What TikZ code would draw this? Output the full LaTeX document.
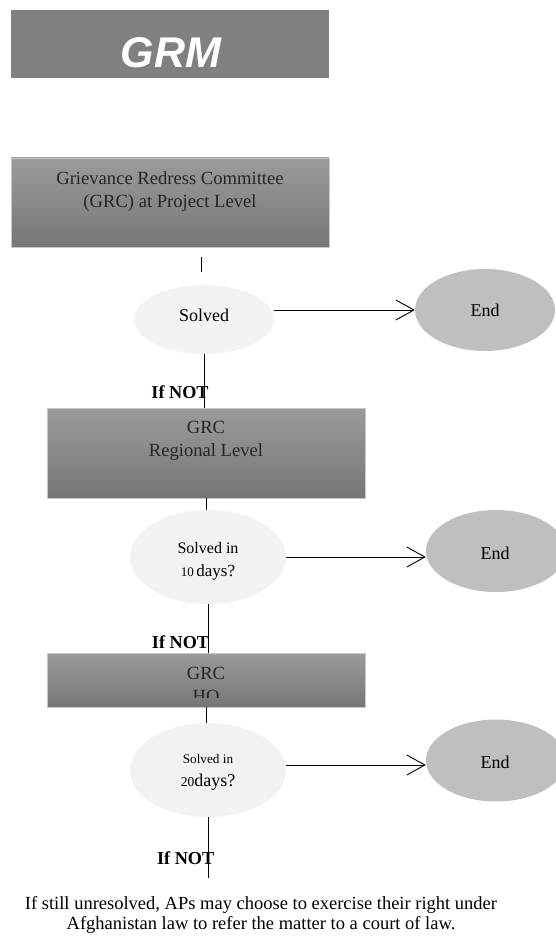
\documentclass[tikz,border=0pt]{standalone}
\usepackage{fontspec}
\setmainfont{Liberation Serif}
\newfontfamily\grmfont{Liberation Sans}
\usetikzlibrary{arrows.meta,shapes.geometric}
\definecolor{titlegray}{HTML}{808080}
\definecolor{boxtop}{HTML}{9B9B9B}
\definecolor{boxbot}{HTML}{767676}
\definecolor{boxedge}{HTML}{C8C8C8}
\definecolor{qfill}{HTML}{F2F2F2}
\definecolor{endfill}{HTML}{BFBFBF}
\begin{document}
\begin{tikzpicture}[x=1pt,y=-1pt,
  titlebox/.style={rectangle, fill=titlegray, minimum width=318pt, minimum height=68pt, inner sep=0pt},
  box/.style={rectangle, draw=boxedge, line width=0.8pt, top color=boxtop, bottom color=boxbot, minimum width=318pt, inner sep=0pt},
  boxtext/.style={align=center, inner sep=0pt, font=\fontsize{18.6}{23}\selectfont, text=black!85},
  question/.style={ellipse, fill=qfill, inner sep=0pt},
  endnode/.style={ellipse, fill=endfill, inner sep=0pt, minimum width=140pt, minimum height=82pt},
  plain/.style={inner sep=0pt, align=center},
  ifnot/.style={inner sep=0pt, font=\fontsize{18.2}{20}\selectfont\bfseries},
  conn/.style={draw=black, line width=0.9pt},
  arr/.style={conn, -{Straight Barb[length=18pt,width=20pt,line width=0.9pt]}}
]
\useasboundingbox (0,0) rectangle (556,936);
\clip (0,0) rectangle (556,936);
\fill[white] (0,0) rectangle (556,936);

% title
\node[titlebox] (title) at (170,44) {};
\node[inner sep=0pt, text=white, font=\grmfont\bfseries\itshape\fontsize{43}{48}\selectfont] (grm) at (171,53) {GRM};

% level 1
\node[box, minimum height=89pt] (b1) at (170,202.5) {};
\node[boxtext] (t1) at (170,191.5) {Grievance Redress Committee\\(GRC) at Project Level};
\coordinate (c1a) at (201,257);
\coordinate (c1b) at (201,272);
\draw[conn] (c1a) -- (c1b);
\node[question, minimum width=140pt, minimum height=69pt] (e1) at (204,319.5) {};
\node[plain, font=\fontsize{18}{20}\selectfont] (q1) at (204,315) {Solved};
\node[endnode] (end1) at (485,310) {};
\node[plain, font=\fontsize{18}{20}\selectfont] (end1t) at (485,310) {End};
\draw[arr] (e1.east |- end1.west) -- (end1.west);

% level 2
\node[box, minimum height=90pt] (b2) at (206,453) {};
\node[boxtext] (t2) at (206,441) {GRC\\Regional Level};
\draw[conn] (e1.south) -- (e1.south |- b2.north);
\node[ifnot] (n1) at (180,391.7) {If NOT};
\node[question, minimum width=156pt, minimum height=94pt] (e2) at (208,557) {};
\node[plain] (q2a) at (208,548) {\fontsize{16}{18}\selectfont Solved in};
\node[plain] (q2b) at (208,572) {{\fontsize{13}{18}\selectfont 10} \fontsize{17}{18}\selectfont days?};
\draw[conn] (b2.south) -- (b2.south |- e2.north);
\node[endnode] (end2) at (496,551) {};
\node[plain, font=\fontsize{18}{20}\selectfont] (end2t) at (495,553) {End};
\draw[arr] (e2.east) -- (e2.east -| end2.west);

% level 3
\node[box, minimum height=54pt] (b3) at (206,680) {};
\begin{scope}
\clip (47,653) rectangle (365,697.5);
\node[boxtext] (t3) at (206,686) {GRC\\HQ};
\end{scope}
\draw[conn] (e2.south) -- (e2.south |- b3.north);
\node[ifnot] (n2) at (180.5,641.7) {If NOT};
\node[question, minimum width=156pt, minimum height=94pt] (e3) at (208,770) {};
\node[plain] (q3a) at (208,759) {\fontsize{13.2}{16}\selectfont Solved in};
\node[plain] (q3b) at (208,782) {{\fontsize{13.5}{18}\selectfont 20}\fontsize{18}{18}\selectfont days?};
\draw[conn] (b3.south) -- (b3.south |- e3.north);
\node[endnode] (end3) at (496,760.5) {};
\node[plain, font=\fontsize{18}{20}\selectfont] (end3t) at (495,762) {End};
\draw[arr] ([yshift=5pt]e3.east) -- ([yshift=5pt]e3.east -| end3.west);

% final
\coordinate (c3) at (208,878);
\draw[conn] (e3.south) -- (c3);
\node[ifnot] (n3) at (185.7,858) {If NOT};
\node[plain, font=\fontsize{18.5}{20.5}\selectfont] (final) at (261,915) {If still unresolved, APs may choose to exercise their right under\\Afghanistan law to refer the matter to a court of law.};
\end{tikzpicture}
\end{document}
